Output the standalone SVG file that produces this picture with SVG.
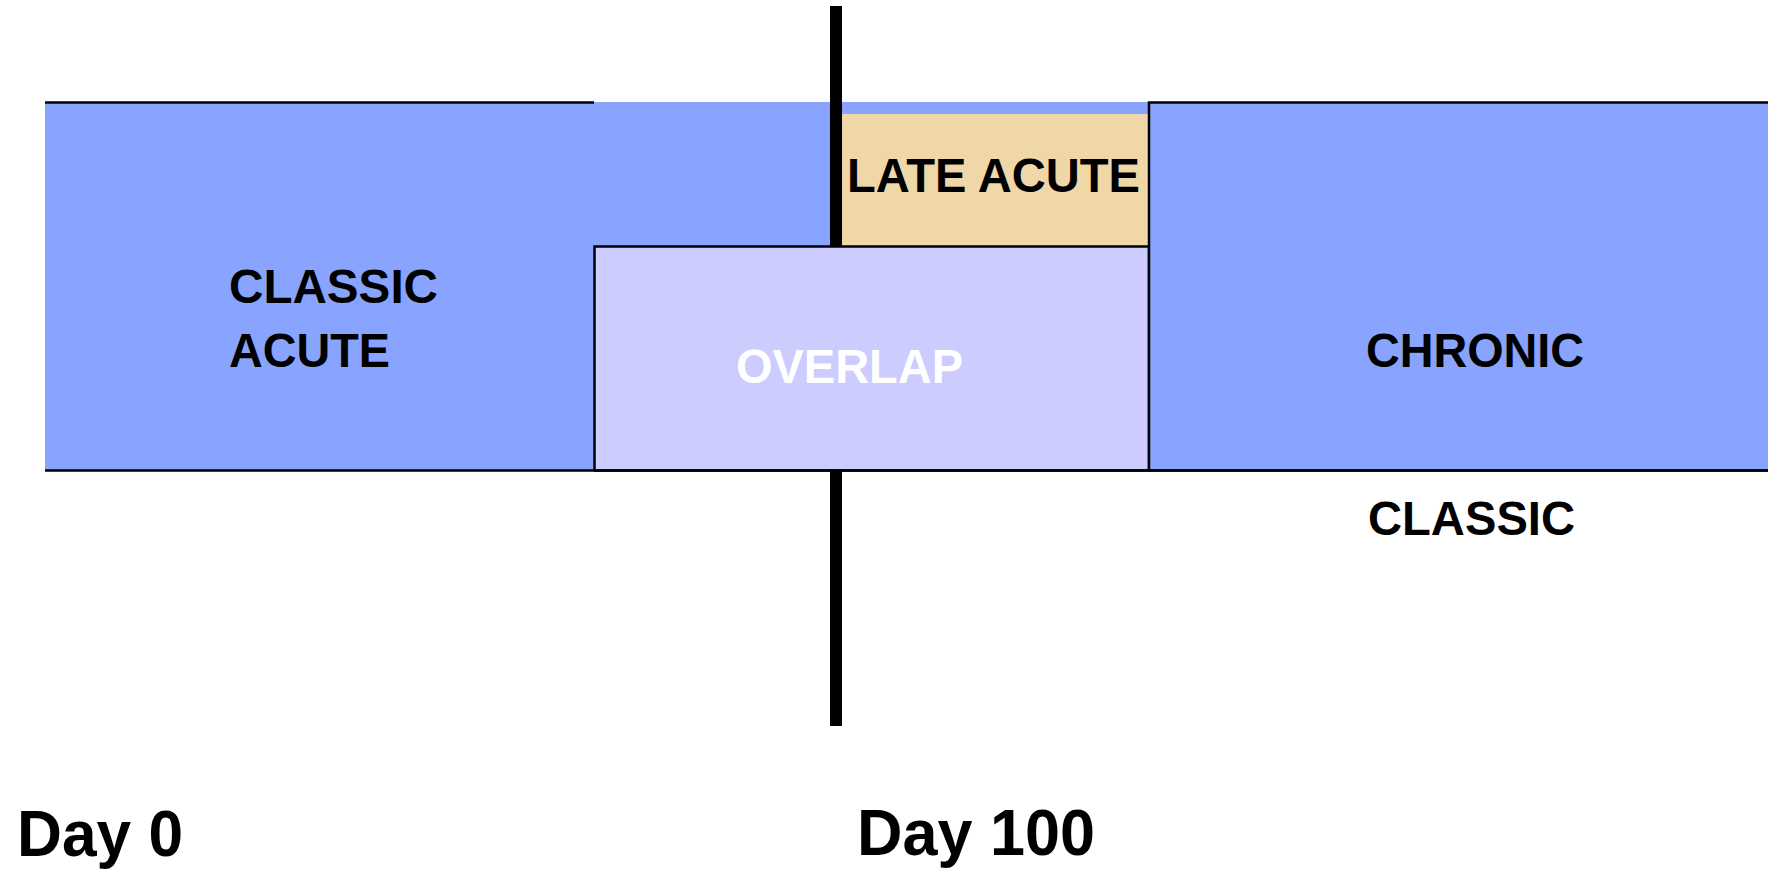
<svg xmlns="http://www.w3.org/2000/svg" width="1768" height="871" viewBox="0 0 1768 871">
<style>
.lbl{font-family:"Liberation Sans",Arial,sans-serif;font-weight:bold;font-size:48px;fill:#000}
.day{font-family:"Liberation Sans",Arial,sans-serif;font-weight:bold;font-size:65px;fill:#000}
.edge{stroke:#000;stroke-width:2.5;fill:none}
</style>
<rect width="1768" height="871" fill="#fff"/>
<g id="classic-acute">
<rect x="45" y="102" width="1723" height="368" fill="#88A4FE"/>
<text class="lbl" x="229" y="303" textLength="209" lengthAdjust="spacingAndGlyphs">CLASSIC</text>
<text class="lbl" x="229" y="367" textLength="161" lengthAdjust="spacingAndGlyphs">ACUTE</text>
</g>
<g id="connectors">
<line x1="45" y1="102.5" x2="594" y2="102.5" class="edge"/>
<rect x="830" y="6" width="12" height="720" fill="#000"/>
</g>
<g id="late-acute">
<rect x="842" y="114" width="307" height="133" fill="#F0D7A8"/>
<text class="lbl" x="847" y="192" textLength="293" lengthAdjust="spacingAndGlyphs">LATE ACUTE</text>
</g>
<g id="overlap">
<rect x="594.5" y="246.5" width="554.5" height="224" fill="#CCCCFF" stroke="#000" stroke-width="2.5"/>
<text class="lbl" x="736" y="383" fill="#fff" style="fill:#fff" textLength="227" lengthAdjust="spacingAndGlyphs">OVERLAP</text>
</g>
<g id="chronic">
<rect x="1149" y="102.5" width="640" height="368" fill="#88A4FE" stroke="#000" stroke-width="2.5"/>
<text class="lbl" x="1366" y="367" textLength="218" lengthAdjust="spacingAndGlyphs">CHRONIC</text>
</g>
<g id="axis">
<line x1="45" y1="470.5" x2="1768" y2="470.5" class="edge"/>
</g>
<g id="classic-label">
<text class="lbl" x="1368" y="535" textLength="207" lengthAdjust="spacingAndGlyphs">CLASSIC</text>
</g>
<g id="day0">
<text class="day" x="17" y="856" textLength="166" lengthAdjust="spacingAndGlyphs">Day 0</text>
</g>
<g id="day100">
<text class="day" x="857" y="855" textLength="238" lengthAdjust="spacingAndGlyphs">Day 100</text>
</g>
</svg>
